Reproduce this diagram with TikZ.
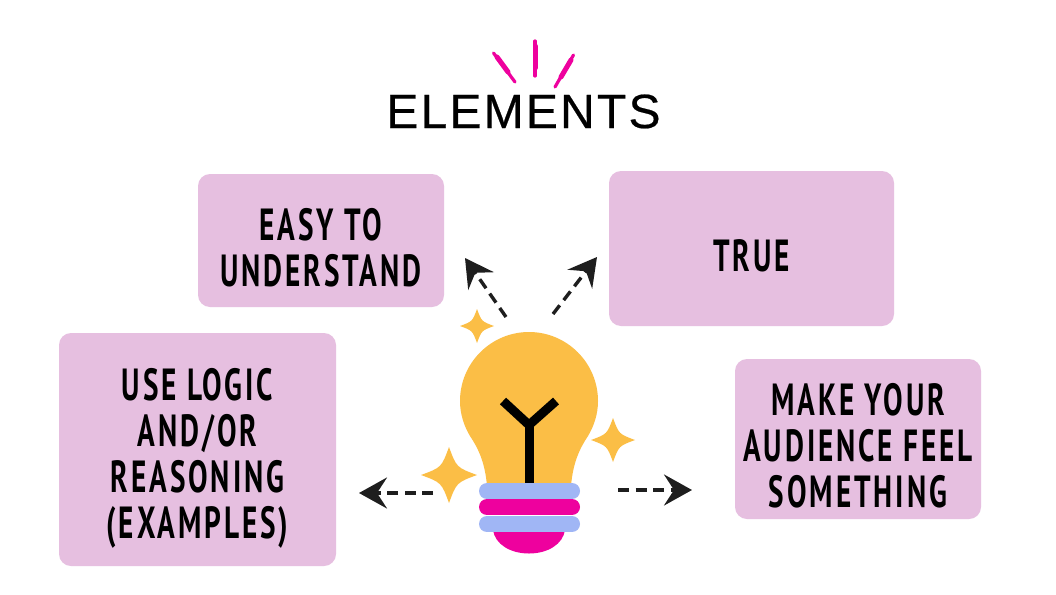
\documentclass[tikz,border=0pt]{standalone}
\usepackage{fontspec}
\setmainfont{Liberation Sans}
\newfontfamily\hand[FakeStretch=0.65,LetterSpace=6.5]{PT Sans Bold}
\newfontfamily\titlefont[LetterSpace=4.6]{Liberation Sans}
\usetikzlibrary{arrows.meta}
\definecolor{boxpink}{HTML}{E6BFE0}
\definecolor{bulbyellow}{HTML}{FBBE46}
\definecolor{capblue}{HTML}{A0B6F5}
\definecolor{magenta1}{HTML}{EE019E}
\definecolor{ink}{HTML}{1E1E1E}
\tikzset{
  card/.style={fill=boxpink,rounded corners=12pt,inner sep=0pt},
  cardtext/.style={text=black,align=center,yshift=-7pt,inner sep=0pt,
    font=\hand\fontsize{45}{46}\selectfont},
  flow/.style={ink,line width=3.4pt,dash pattern=on 11pt off 6.5pt,
    -{Stealth[length=28pt,width=31pt,inset=10pt,color=ink]}},
  spark/.style={fill=bulbyellow,draw=none},
  ray/.style={magenta1,line width=3.2pt,line cap=round},
  rayfat/.style={magenta1,line width=5pt,line cap=round},
  capbar/.style={line width=16pt,line cap=round}
}
\newcommand{\sparkle}[3]{%
  \fill[spark,shift={(#1,#2)}] (0,-#3) .. controls (.27*#3,-.27*#3) .. (#3,0)
   .. controls (.27*#3,.27*#3) .. (0,#3) .. controls (-.27*#3,.27*#3) .. (-#3,0)
   .. controls (-.27*#3,-.27*#3) .. cycle;}
\begin{document}
\begin{tikzpicture}[x=1pt,y=-1pt]
\useasboundingbox (0,0) rectangle (1056,594);
\fill[white] (0,0) rectangle (1056,594);
% title
\node[anchor=base,inner sep=0pt,font=\titlefont\fontsize{48}{48}\selectfont] (title) at (523.5,128)
  {\special{pdf:code q 0.22 w 2 Tr}ELEMENTS\special{pdf:code Q}};
\draw[ray] (493.5,53) -- (515,82);
\draw[rayfat] (497,57) -- (508,72);
\draw[ray] (535,41) -- (535,76);
\draw[rayfat] (535,46) -- (535,68);
\draw[ray] (573.5,55) -- (555,87);
\draw[rayfat] (571,60) -- (561,77);
% cards
\node[card,minimum width=246pt,minimum height=133pt,
  label={[cardtext]center:{EASY TO\\UNDERSTAND}}] (easy) at (321,240.5) {};
\node[card,minimum width=285pt,minimum height=155pt,
  label={[cardtext]center:{TRUE}}] (true) at (751.5,248.5) {};
\node[card,minimum width=246pt,minimum height=160pt,
  label={[cardtext]center:{MAKE YOUR\\AUDIENCE FEEL\\SOMETHING}}] (feel) at (858,439) {};
\node[card,minimum width=277pt,minimum height=233pt,
  label={[cardtext,yshift=-2pt]center:{USE LOGIC\\AND/OR\\REASONING\\(EXAMPLES)}}] (logic) at (197.5,449.5) {};
% bulb
\fill[bulbyellow] (487,486) .. controls (485,462) and (478,448) .. (470,436)
  .. controls (464,426) and (460,414) .. (460,401)
  .. controls (460,363) and (491,332) .. (529,332)
  .. controls (567,332) and (598,363) .. (598,401)
  .. controls (598,414) and (594,426) .. (588,436)
  .. controls (580,448) and (573,462) .. (571,486) -- cycle;
\draw[black,line width=9pt,line join=miter] (503,401) -- (529,425) -- (556,401);
\draw[black,line width=9pt] (529,424) -- (529,484);
\fill[magenta1] (493,530) -- (565,530) .. controls (563,544) and (548,553.5) .. (529,553.5)
  .. controls (510,553.5) and (495,544) .. (493,530) -- cycle;
\draw[capbar,magenta1] (487,507) -- (572,507);
\draw[capbar,capblue] (487,491) -- (572,491);
\draw[capbar,capblue] (487,524) -- (572,524);
% sparkles
\sparkle{477}{326}{17}
\sparkle{613}{440}{22}
\sparkle{449}{475}{28}
% arrows
\coordinate (a1) at (506,317); \coordinate (t1) at (465,258);
\coordinate (a2) at (553,314); \coordinate (t2) at (597,257);
\coordinate (a3) at (433,493); \coordinate (t3) at (359,493);
\coordinate (a4) at (618,490); \coordinate (t4) at (692,490);
\draw[flow] (a1) -- (t1);
\draw[flow] (a2) -- (t2);
\draw[flow] (a3) -- (t3);
\draw[flow] (a4) -- (t4);
\end{tikzpicture}
\end{document}
